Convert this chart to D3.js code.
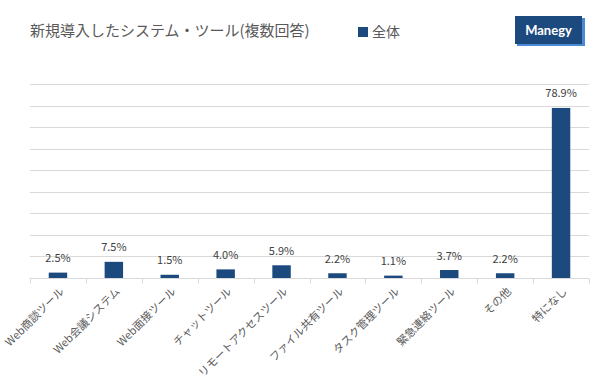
<!DOCTYPE html>
<html><head><meta charset="utf-8">
<script src="https://cdn.jsdelivr.net/npm/d3@7"></script>
<style>
body{margin:0;background:#fff;}
svg{display:block;font-family:"Noto Sans CJK JP","Noto Sans",sans-serif;}
</style></head><body>
<svg id="c" width="600" height="380"></svg>
<script>
const categories = ["Web商談ツール","Web会議システム","Web面接ツール","チャットツール","リモートアクセスツール","ファイル共有ツール","タスク管理ツール","緊急連絡ツール","その他","特になし"];
const values = [2.5,7.5,1.5,4.0,5.9,2.2,1.1,3.7,2.2,78.9];
const yTicks = [0,10,20,30,40,50,60,70,80,90];
const seriesName = "全体";
const title = "新規導入したシステム・ツール(複数回答)";

const svg = d3.select("#c");
const m = {l:30, r:11, t:84, b:102};
const W = 600, H = 380;
const x = d3.scaleBand().domain(categories).range([m.l, W-m.r]).paddingInner(0.67).paddingOuter(0.335);
const xb = d3.scaleBand().domain(categories).range([m.l, W-m.r]);
const y = d3.scaleLinear().domain([0,90]).range([H-m.b, m.t]);

// gridlines
svg.append("g").selectAll("line").data(yTicks.slice(1)).join("line")
  .attr("x1", m.l).attr("x2", W-m.r)
  .attr("y1", d=>Math.round(y(d))+0.5).attr("y2", d=>Math.round(y(d))+0.5)
  .attr("stroke", "#d9d9d9").attr("stroke-width", 1);

// bars
svg.append("g").selectAll("rect").data(values).join("rect")
  .attr("x", (d,i)=>x(categories[i]))
  .attr("width", x.bandwidth())
  .attr("y", d=>y(d))
  .attr("height", d=>y(0)-y(d))
  .attr("fill", "#1c4a7e");

// value labels
svg.append("g").selectAll("text").data(values).join("text")
  .attr("x", (d,i)=>x(categories[i]) + x.bandwidth()/2)
  .attr("y", d=>y(d)-10.5)
  .attr("text-anchor","middle")
  .attr("font-size", 11)
  .attr("fill", "#404040")
  .text(d=>d.toFixed(1)+"%");

// x axis
const gx = svg.append("g").attr("transform", `translate(0,${Math.round(y(0))+0.5})`);
gx.append("line").attr("x1", m.l).attr("x2", W-m.r).attr("stroke","#d9d9d9");
const bounds = categories.map(c=>xb(c)).concat([W-m.r]);
gx.selectAll("line.tk").data(bounds).join("line").attr("class","tk")
  .attr("x1", d=>Math.round(d)+0.5).attr("x2", d=>Math.round(d)+0.5)
  .attr("y1",0).attr("y2",5).attr("stroke","#d9d9d9");
gx.selectAll("text").data(categories).join("text")
  .attr("transform", d=>`translate(${xb(d)+xb.bandwidth()/2+4},${11}) rotate(-45)`)
  .attr("text-anchor","end")
  .attr("font-size", 11)
  .attr("fill", "#595959")
  .attr("dy","0.35em")
  .text(d=>d);

// title
svg.append("text").attr("x", 30).attr("y", 36)
  .attr("font-size", 15).attr("fill", "#595959").text(title);

// legend
svg.append("rect").attr("x", 358).attr("y", 27).attr("width", 10).attr("height", 10).attr("fill", "#1c4a7e");
svg.append("text").attr("x", 372).attr("y", 37).attr("font-size", 14).attr("fill", "#595959").text(seriesName);

// logo
svg.append("rect").attr("x", 517).attr("y", 18).attr("width", 68).attr("height", 28).attr("fill", "#4a8ad4");
svg.append("rect").attr("x", 515).attr("y", 16).attr("width", 67).attr("height", 28).attr("fill", "#1c4a7e");
svg.append("text").attr("x", 548.5).attr("y", 35).attr("text-anchor","middle")
  .attr("font-size", 13).attr("font-weight","bold").attr("fill","#fff")
  .attr("font-family","Lato, 'Open Sans', sans-serif").text("Manegy");
</script>
</body></html>
